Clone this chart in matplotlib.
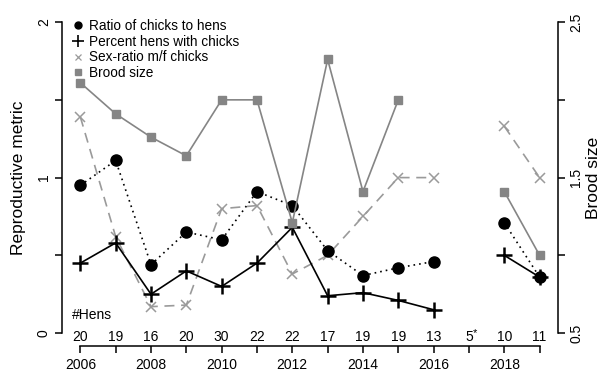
import numpy as np
import matplotlib.pyplot as plt

plt.rcParams['font.family'] = ['Liberation Sans', 'DejaVu Sans']

years = np.arange(2006, 2020)
nan = np.nan
ratio_chicks_hens = [0.95, 1.11, 0.44, 0.65, 0.60, 0.91, 0.82, 0.53, 0.37, 0.42, 0.46, nan, 0.71, 0.36]
pct_hens_chicks = [0.45, 0.58, 0.25, 0.40, 0.30, 0.45, 0.68, 0.24, 0.26, 0.21, 0.15, nan, 0.50, 0.36]
sex_ratio = [1.39, 0.62, 0.17, 0.18, 0.80, 0.82, 0.38, 0.50, 0.75, 1.00, 1.00, nan, 1.33, 1.00]
brood_size = [2.11, 1.91, 1.76, 1.64, 2.00, 2.00, 1.21, 2.26, 1.41, 2.00, nan, nan, 1.41, 1.00]
n_hens = ['20', '19', '16', '20', '30', '22', '22', '17', '19', '19', '13', '5', '10', '11']

fig = plt.figure(figsize=(6.04, 3.72), dpi=100)
ax = fig.add_axes([0.1026, 0.0712, 0.8212, 0.9028])
ax2 = ax.twinx()

black = 'black'
grey_sq = '#858585'
grey_x = '#9a9a9a'

ax.plot(years, sex_ratio, ls=(0, (6, 4)), color=grey_x, lw=1.2,
        marker='x', ms=7, mew=1.1, label='Sex-ratio m/f chicks', zorder=2)
ax.plot(years, ratio_chicks_hens, ls=(0, (1.0, 2.4)), color=black, lw=1.2,
        marker='o', ms=8, label='Ratio of chicks to hens', zorder=3)
ax.plot(years, pct_hens_chicks, ls='-', color=black, lw=1.2,
        marker='+', ms=12, mew=1.8, label='Percent hens with chicks', zorder=4)
ax2.plot(years, brood_size, ls='-', color=grey_sq, lw=1.2,
         marker='s', ms=6, label='Brood size')

ax.set_xlim(2005.48, 2019.52)
ax.set_ylim(-0.08, 2.08)
ax2.set_ylim(0.42, 2.58)

for s in ['top', 'right']:
    ax.spines[s].set_visible(False)
for s in ['top', 'left', 'bottom']:
    ax2.spines[s].set_visible(False)
ax.spines['left'].set_bounds(0, 2)
ax.spines['bottom'].set_bounds(2006, 2019)
ax2.spines['right'].set_bounds(0.5, 2.5)
for sp in [ax.spines['left'], ax.spines['bottom'], ax2.spines['right']]:
    sp.set_linewidth(1.1)

ax.set_yticks([0, 0.5, 1, 1.5, 2])
ax.set_yticklabels(['0', '', '1', '', '2'], rotation=90, va='center')
ax2.set_yticks([0.5, 1, 1.5, 2, 2.5])
ax2.set_yticklabels(['0.5', '', '1.5', '', '2.5'], rotation=90, va='center')
ax.set_xticks(years)
ax.set_xticklabels([str(y) if y % 2 == 0 else '' for y in years])
ax.tick_params(axis='both', direction='out', length=5, width=1.1, labelsize=10, pad=3)
ax2.tick_params(axis='y', direction='out', length=5, width=1.1, labelsize=10, pad=3)
ax.tick_params(axis='x', pad=4)

ax.set_ylabel('Reproductive metric', fontsize=12.5, labelpad=8)
ax2.set_ylabel('Brood size', fontsize=12.5, labelpad=2)

# sample sizes above the year axis
ax.text(2005.75, 0.115, '#Hens', fontsize=10, ha='left', va='center')
for y, n in zip(years, n_hens):
    ax.text(y, -0.026, n, fontsize=10, ha='center', va='center')
    if n == '5':
        ax.text(y + 0.17, 0.0, '*', fontsize=8, ha='center', va='center')

handles = [
    plt.Line2D([], [], ls='none', marker='o', ms=5, color=black),
    plt.Line2D([], [], ls='none', marker='+', ms=8, mew=1.2, color=black),
    plt.Line2D([], [], ls='none', marker='x', ms=5, mew=0.9, color=grey_x),
    plt.Line2D([], [], ls='none', marker='s', ms=4.5, color=grey_sq),
]
labels = ['Ratio of chicks to hens', 'Percent hens with chicks',
          'Sex-ratio m/f chicks', 'Brood size']
ax2.legend(handles, labels, loc='upper left', bbox_to_anchor=(0.0, 1.0),
           frameon=False, fontsize=9.8, handlelength=1.0, handletextpad=0.3,
           labelspacing=0.12, borderaxespad=0.3)

fig.savefig('out.png', dpi=100)
